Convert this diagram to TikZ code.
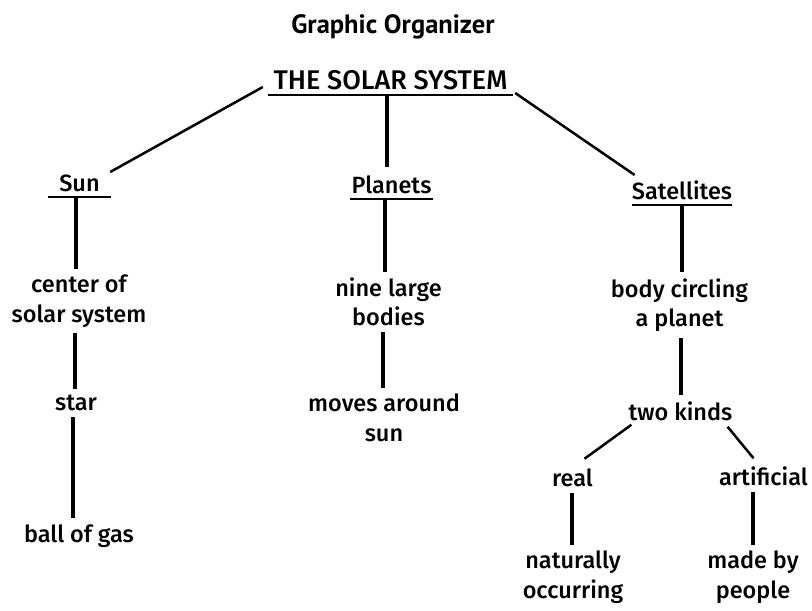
\documentclass[tikz,border=0pt]{standalone}
\usepackage{fontspec}
\setmainfont{PT Sans}
\newfontfamily\labelfont{Fira Sans Medium}
\begin{document}
\begin{tikzpicture}[x=1pt,y=-1pt,
  lbl/.style={inner sep=0pt, align=center, font=\labelfont\fontsize{23.5}{29.5}\selectfont},
  head/.style={lbl, inner xsep=0pt, inner ysep=5pt, text depth=0pt, anchor=south},
  uline/.style={line width=2.6pt},
  link/.style={line width=3.2pt, shorten <=6pt, shorten >=6pt},
  slant/.style={line width=2.5pt}]
\useasboundingbox (0,0) rectangle (812,611);

% title
\node[inner sep=0pt, font=\fontsize{26.5}{30}\selectfont\bfseries] (title) at (393,27) {Graphic Organizer};

% root and the three branches (underlined headings)
\node[head, minimum width=245pt, font=\labelfont\fontsize{27}{30}\selectfont] (ss) at (390.5,95) {THE SOLAR SYSTEM};
\node[head, minimum width=63pt] (sun) at (79.5,197) {Sun};
\node[head, minimum width=83pt] (pl) at (391.5,199) {Planets};
\node[head, minimum width=100pt] (sat) at (682,205) {Satellites};
\foreach \n in {ss,sun,pl,sat}
  \draw[uline] (\n.south west) -- (\n.south east);

% Sun branch
\node[lbl] (c1) at (79,301) {center of\\solar system};
\node[lbl] (star) at (76,403) {star};
\node[lbl] (ball) at (79,536) {ball of gas};

% Planets branch
\node[lbl] (nine) at (388.5,302) {nine large\\bodies};
\node[lbl] (moves) at (384,418) {moves around\\sun};

% Satellites branch
\node[lbl] (body) at (679.5,305) {body circling\\a planet};
\node[lbl] (two) at (680.5,411) {two kinds};
\node[lbl] (real) at (572.5,478) {real};
\node[lbl] (art) at (763.5,476) {artificial};
\node[lbl] (nat) at (573,577) {naturally\\occurring};
\node[lbl] (made) at (753,577) {made by\\people};

% connectors from the root
\draw[slant] ([shift={(-5,-8)}]ss.south west) -- ([shift={(-1,-25)}]sun.south east);
\draw[slant] ([shift={(2,-2)}]ss.south east) -- ([shift={(3,-30)}]sat.south west);
\draw[link, shorten <=0pt, shorten >=4pt] (ss.south -| 387,0) -- (pl.north -| 387,0);

% vertical connectors
\draw[link, shorten <=0pt] (sun.south -| 76,0) -- (c1.north -| 76,0);
\draw[link] (c1.south -| 75,0) -- (star.north -| 75,0);
\draw[link] (star.south -| 73,0) -- (ball.north -| 73,0);
\draw[link, shorten <=0pt] (pl.south -| 385,0) -- (nine.north -| 385,0);
\draw[link] (nine.south -| 383,0) -- (moves.north -| 383,0);
\draw[link, shorten <=0pt] (sat.south -| 682,0) -- (body.north -| 682,0);
\draw[link] (body.south -| 681,0) -- (two.north -| 681,0);
\draw[link] (real.south -| 572,0) -- (nat.north -| 572,0);
\draw[link] (art.south -| 753,0) -- (made.north -| 753,0);

% the two kinds
\draw[slant] ([shift={(3,4)}]two.south west) -- ([shift={(12,-10)}]real.north);
\draw[slant] ([shift={(-5,6)}]two.south east) -- ([shift={(-10,-8)}]art.north);
\end{tikzpicture}
\end{document}
